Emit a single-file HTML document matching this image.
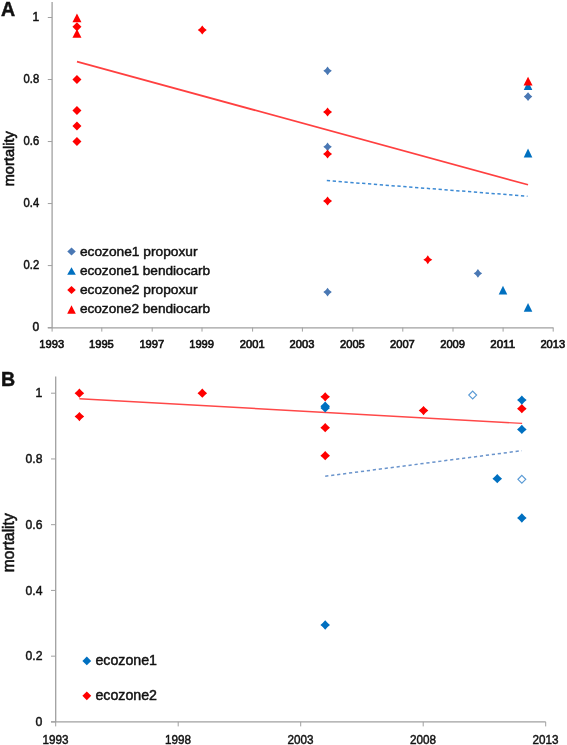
<!DOCTYPE html>
<html><head><meta charset="utf-8"><title>mortality</title>
<style>
html,body{margin:0;padding:0;background:#fff;}
body{width:567px;height:745px;overflow:hidden;}
svg{display:block;will-change:transform;}
text{font-family:"Liberation Sans",sans-serif;fill:#111111;stroke:#111111;stroke-width:0.45px;paint-order:stroke;}
</style></head>
<body>
<svg width="567" height="745" viewBox="0 0 567 745">
<rect x="0" y="0" width="567" height="745" fill="#fff"/>
<text x="1.00" y="15.90" font-size="19.6" text-anchor="start" font-weight="bold">A</text>
<line x1="52.1" y1="2" x2="52.1" y2="327.90000000000003" stroke="#A0A0A0" stroke-width="1.3"/>
<line x1="47.8" y1="327.90000000000003" x2="553.4" y2="327.90000000000003" stroke="#A0A0A0" stroke-width="1.3"/>
<line x1="47.8" y1="327.60" x2="52.1" y2="327.60" stroke="#A0A0A0" stroke-width="1"/>
<text x="39.20" y="331.35" font-size="12.0" text-anchor="end" font-weight="normal" style="stroke-width:0.5px">0</text>
<line x1="47.8" y1="265.58" x2="52.1" y2="265.58" stroke="#A0A0A0" stroke-width="1"/>
<text x="39.20" y="269.33" font-size="12.0" text-anchor="end" font-weight="normal" textLength="15.6" lengthAdjust="spacingAndGlyphs" style="stroke-width:0.5px">0.2</text>
<line x1="47.8" y1="203.56" x2="52.1" y2="203.56" stroke="#A0A0A0" stroke-width="1"/>
<text x="39.20" y="207.31" font-size="12.0" text-anchor="end" font-weight="normal" textLength="15.6" lengthAdjust="spacingAndGlyphs" style="stroke-width:0.5px">0.4</text>
<line x1="47.8" y1="141.54" x2="52.1" y2="141.54" stroke="#A0A0A0" stroke-width="1"/>
<text x="39.20" y="145.29" font-size="12.0" text-anchor="end" font-weight="normal" textLength="15.6" lengthAdjust="spacingAndGlyphs" style="stroke-width:0.5px">0.6</text>
<line x1="47.8" y1="79.52" x2="52.1" y2="79.52" stroke="#A0A0A0" stroke-width="1"/>
<text x="39.20" y="83.27" font-size="12.0" text-anchor="end" font-weight="normal" textLength="15.6" lengthAdjust="spacingAndGlyphs" style="stroke-width:0.5px">0.8</text>
<line x1="47.8" y1="17.50" x2="52.1" y2="17.50" stroke="#A0A0A0" stroke-width="1"/>
<text x="39.20" y="21.25" font-size="12.0" text-anchor="end" font-weight="normal" style="stroke-width:0.5px">1</text>
<line x1="52.10" y1="327.6" x2="52.10" y2="331.6" stroke="#A0A0A0" stroke-width="1"/>
<text x="51.70" y="347.90" font-size="11.6" text-anchor="middle" font-weight="normal" textLength="24.8" lengthAdjust="spacingAndGlyphs" style="stroke-width:0.65px">1993</text>
<line x1="101.80" y1="327.6" x2="101.80" y2="331.6" stroke="#A0A0A0" stroke-width="1"/>
<text x="101.40" y="347.90" font-size="11.6" text-anchor="middle" font-weight="normal" textLength="24.8" lengthAdjust="spacingAndGlyphs" style="stroke-width:0.65px">1995</text>
<line x1="152.20" y1="327.6" x2="152.20" y2="331.6" stroke="#A0A0A0" stroke-width="1"/>
<text x="151.80" y="347.90" font-size="11.6" text-anchor="middle" font-weight="normal" textLength="24.8" lengthAdjust="spacingAndGlyphs" style="stroke-width:0.65px">1997</text>
<line x1="202.00" y1="327.6" x2="202.00" y2="331.6" stroke="#A0A0A0" stroke-width="1"/>
<text x="201.60" y="347.90" font-size="11.6" text-anchor="middle" font-weight="normal" textLength="24.8" lengthAdjust="spacingAndGlyphs" style="stroke-width:0.65px">1999</text>
<line x1="252.60" y1="327.6" x2="252.60" y2="331.6" stroke="#A0A0A0" stroke-width="1"/>
<text x="252.20" y="347.90" font-size="11.6" text-anchor="middle" font-weight="normal" textLength="24.8" lengthAdjust="spacingAndGlyphs" style="stroke-width:0.65px">2001</text>
<line x1="302.40" y1="327.6" x2="302.40" y2="331.6" stroke="#A0A0A0" stroke-width="1"/>
<text x="302.00" y="347.90" font-size="11.6" text-anchor="middle" font-weight="normal" textLength="24.8" lengthAdjust="spacingAndGlyphs" style="stroke-width:0.65px">2003</text>
<line x1="352.80" y1="327.6" x2="352.80" y2="331.6" stroke="#A0A0A0" stroke-width="1"/>
<text x="352.40" y="347.90" font-size="11.6" text-anchor="middle" font-weight="normal" textLength="24.8" lengthAdjust="spacingAndGlyphs" style="stroke-width:0.65px">2005</text>
<line x1="402.80" y1="327.6" x2="402.80" y2="331.6" stroke="#A0A0A0" stroke-width="1"/>
<text x="402.40" y="347.90" font-size="11.6" text-anchor="middle" font-weight="normal" textLength="24.8" lengthAdjust="spacingAndGlyphs" style="stroke-width:0.65px">2007</text>
<line x1="453.00" y1="327.6" x2="453.00" y2="331.6" stroke="#A0A0A0" stroke-width="1"/>
<text x="452.60" y="347.90" font-size="11.6" text-anchor="middle" font-weight="normal" textLength="24.8" lengthAdjust="spacingAndGlyphs" style="stroke-width:0.65px">2009</text>
<line x1="503.10" y1="327.6" x2="503.10" y2="331.6" stroke="#A0A0A0" stroke-width="1"/>
<text x="502.70" y="347.90" font-size="11.6" text-anchor="middle" font-weight="normal" textLength="24.8" lengthAdjust="spacingAndGlyphs" style="stroke-width:0.65px">2011</text>
<line x1="553.20" y1="327.6" x2="553.20" y2="331.6" stroke="#A0A0A0" stroke-width="1"/>
<text x="552.80" y="347.90" font-size="11.6" text-anchor="middle" font-weight="normal" textLength="24.8" lengthAdjust="spacingAndGlyphs" style="stroke-width:0.65px">2013</text>
<text x="0" y="0" font-size="14.6" style="stroke-width:0.6px" transform="translate(13.9,186.3) rotate(-90)">mortality</text>
<line x1="76.96" y1="61.6" x2="528.04" y2="184.8" stroke="#FF4040" stroke-width="1.7"/>
<line x1="326.8" y1="180.6" x2="527.5" y2="196.2" stroke="#3C8AD4" stroke-width="1.5" stroke-dasharray="3.3 2.6"/>
<path d="M327.56,66.44 Q329.09,69.25 331.81,70.84 Q329.09,72.42 327.56,75.24 Q326.03,72.42 323.31,70.84 Q326.03,69.25 327.56,66.44Z" fill="#4A78B4"/>
<path d="M327.56,142.41 Q329.09,145.23 331.81,146.81 Q329.09,148.40 327.56,151.21 Q326.03,148.40 323.31,146.81 Q326.03,145.23 327.56,142.41Z" fill="#4A78B4"/>
<path d="M327.56,287.69 Q329.09,290.51 331.81,292.09 Q329.09,293.68 327.56,296.49 Q326.03,293.68 323.31,292.09 Q326.03,290.51 327.56,287.69Z" fill="#4A78B4"/>
<path d="M477.92,268.93 Q479.45,271.75 482.17,273.33 Q479.45,274.92 477.92,277.73 Q476.39,274.92 473.67,273.33 Q476.39,271.75 477.92,268.93Z" fill="#4A78B4"/>
<path d="M528.04,92.18 Q529.95,94.60 532.29,96.58 Q529.95,98.56 528.04,100.98 Q526.13,98.56 523.79,96.58 Q526.13,94.60 528.04,92.18Z" fill="#4A78B4"/>
<polygon points="502.98,285.68 507.28,294.48 498.68,294.48" fill="#0070C0"/>
<polygon points="528.04,81.32 532.34,90.12 523.74,90.12" fill="#0070C0"/>
<polygon points="528.04,148.61 532.34,157.41 523.74,157.41" fill="#0070C0"/>
<polygon points="528.04,303.04 532.34,311.84 523.74,311.84" fill="#0070C0"/>
<polygon points="76.96,22.30 81.46,26.80 76.96,31.30 72.46,26.80" fill="#FF0000"/>
<polygon points="76.96,75.02 81.46,79.52 76.96,84.02 72.46,79.52" fill="#FF0000"/>
<polygon points="76.96,106.03 81.46,110.53 76.96,115.03 72.46,110.53" fill="#FF0000"/>
<polygon points="76.96,121.53 81.46,126.03 76.96,130.53 72.46,126.03" fill="#FF0000"/>
<polygon points="76.96,137.04 81.46,141.54 76.96,146.04 72.46,141.54" fill="#FF0000"/>
<path d="M202.26,25.40 Q203.97,28.19 206.76,29.90 Q203.97,31.61 202.26,34.40 Q200.55,31.61 197.76,29.90 Q200.55,28.19 202.26,25.40Z" fill="#FF0000"/>
<path d="M327.56,107.58 Q329.27,110.37 332.06,112.08 Q329.27,113.79 327.56,116.58 Q325.85,113.79 323.06,112.08 Q325.85,110.37 327.56,107.58Z" fill="#FF0000"/>
<path d="M327.56,149.44 Q329.27,152.23 332.06,153.94 Q329.27,155.65 327.56,158.44 Q325.85,155.65 323.06,153.94 Q325.85,152.23 327.56,149.44Z" fill="#FF0000"/>
<path d="M327.56,196.58 Q329.27,199.37 332.06,201.08 Q329.27,202.79 327.56,205.58 Q325.85,202.79 323.06,201.08 Q325.85,199.37 327.56,196.58Z" fill="#FF0000"/>
<path d="M427.80,255.19 Q429.15,258.34 432.30,259.69 Q429.15,261.04 427.80,264.19 Q426.45,261.04 423.30,259.69 Q426.45,258.34 427.80,255.19Z" fill="#FF0000"/>
<polygon points="76.96,13.41 81.46,22.21 72.46,22.21" fill="#FF0000"/>
<polygon points="76.96,28.92 81.46,37.72 72.46,37.72" fill="#FF0000"/>
<polygon points="528.04,76.67 532.54,85.47 523.54,85.47" fill="#FF0000"/>
<polygon points="71.50,247.60 75.75,251.50 71.50,255.40 67.25,251.50" fill="#4A78B4"/>
<text x="79.90" y="255.50" font-size="13.1" text-anchor="start" font-weight="normal" textLength="117.6" lengthAdjust="spacingAndGlyphs">ecozone1 propoxur</text>
<polygon points="71.50,267.30 75.80,274.70 67.20,274.70" fill="#0070C0"/>
<text x="79.90" y="274.90" font-size="13.1" text-anchor="start" font-weight="normal" textLength="130.29999999999998" lengthAdjust="spacingAndGlyphs">ecozone1 bendiocarb</text>
<polygon points="71.50,286.10 75.75,290.00 71.50,293.90 67.25,290.00" fill="#FF0000"/>
<text x="79.90" y="294.00" font-size="13.1" text-anchor="start" font-weight="normal" textLength="117.6" lengthAdjust="spacingAndGlyphs">ecozone2 propoxur</text>
<polygon points="71.50,305.20 75.80,313.80 67.20,313.80" fill="#FF0000"/>
<text x="79.90" y="313.40" font-size="13.1" text-anchor="start" font-weight="normal" textLength="130.29999999999998" lengthAdjust="spacingAndGlyphs">ecozone2 bendiocarb</text>
<text x="1.00" y="386.10" font-size="19.6" text-anchor="start" font-weight="bold">B</text>
<line x1="55.7" y1="376.5" x2="55.7" y2="721.9" stroke="#A0A0A0" stroke-width="1.3"/>
<line x1="51" y1="721.9" x2="545.7" y2="721.9" stroke="#A0A0A0" stroke-width="1.3"/>
<line x1="51" y1="721.90" x2="55.7" y2="721.90" stroke="#A0A0A0" stroke-width="1"/>
<text x="42.40" y="726.00" font-size="12.3" text-anchor="end" font-weight="normal" style="stroke-width:0.45px">0</text>
<line x1="51" y1="656.16" x2="55.7" y2="656.16" stroke="#A0A0A0" stroke-width="1"/>
<text x="42.40" y="660.26" font-size="12.3" text-anchor="end" font-weight="normal" textLength="16.9" lengthAdjust="spacingAndGlyphs" style="stroke-width:0.45px">0.2</text>
<line x1="51" y1="590.42" x2="55.7" y2="590.42" stroke="#A0A0A0" stroke-width="1"/>
<text x="42.40" y="594.52" font-size="12.3" text-anchor="end" font-weight="normal" textLength="16.9" lengthAdjust="spacingAndGlyphs" style="stroke-width:0.45px">0.4</text>
<line x1="51" y1="524.68" x2="55.7" y2="524.68" stroke="#A0A0A0" stroke-width="1"/>
<text x="42.40" y="528.78" font-size="12.3" text-anchor="end" font-weight="normal" textLength="16.9" lengthAdjust="spacingAndGlyphs" style="stroke-width:0.45px">0.6</text>
<line x1="51" y1="458.94" x2="55.7" y2="458.94" stroke="#A0A0A0" stroke-width="1"/>
<text x="42.40" y="463.04" font-size="12.3" text-anchor="end" font-weight="normal" textLength="16.9" lengthAdjust="spacingAndGlyphs" style="stroke-width:0.45px">0.8</text>
<line x1="51" y1="393.20" x2="55.7" y2="393.20" stroke="#A0A0A0" stroke-width="1"/>
<text x="42.40" y="397.30" font-size="12.3" text-anchor="end" font-weight="normal" style="stroke-width:0.45px">1</text>
<line x1="55.70" y1="721.9" x2="55.70" y2="726.4" stroke="#A0A0A0" stroke-width="1"/>
<text x="55.40" y="743.60" font-size="12.1" text-anchor="middle" font-weight="normal" textLength="26.0" lengthAdjust="spacingAndGlyphs" style="stroke-width:0.45px">1993</text>
<line x1="178.20" y1="721.9" x2="178.20" y2="726.4" stroke="#A0A0A0" stroke-width="1"/>
<text x="177.90" y="743.60" font-size="12.1" text-anchor="middle" font-weight="normal" textLength="26.0" lengthAdjust="spacingAndGlyphs" style="stroke-width:0.45px">1998</text>
<line x1="300.70" y1="721.9" x2="300.70" y2="726.4" stroke="#A0A0A0" stroke-width="1"/>
<text x="300.40" y="743.60" font-size="12.1" text-anchor="middle" font-weight="normal" textLength="26.0" lengthAdjust="spacingAndGlyphs" style="stroke-width:0.45px">2003</text>
<line x1="423.20" y1="721.9" x2="423.20" y2="726.4" stroke="#A0A0A0" stroke-width="1"/>
<text x="422.90" y="743.60" font-size="12.1" text-anchor="middle" font-weight="normal" textLength="26.0" lengthAdjust="spacingAndGlyphs" style="stroke-width:0.45px">2008</text>
<line x1="545.70" y1="721.9" x2="545.70" y2="726.4" stroke="#A0A0A0" stroke-width="1"/>
<text x="545.40" y="743.60" font-size="12.1" text-anchor="middle" font-weight="normal" textLength="26.0" lengthAdjust="spacingAndGlyphs" style="stroke-width:0.45px">2013</text>
<text x="0" y="0" font-size="15.6" style="stroke-width:0.55px" transform="translate(14.1,572.2) rotate(-90)">mortality</text>
<line x1="79.40" y1="398.7" x2="522.14" y2="423.4" stroke="#FF4848" stroke-width="1.45"/>
<line x1="325.20" y1="476.2" x2="521.84" y2="450.7" stroke="#6A94CC" stroke-width="1.5" stroke-dasharray="3.2 2.8"/>
<path d="M79.40,388.55 Q81.51,391.15 84.20,393.20 Q81.51,395.25 79.40,397.85 Q77.29,395.25 74.60,393.20 Q77.29,391.15 79.40,388.55Z" fill="#FF0000"/>
<path d="M79.40,411.89 Q81.51,414.49 84.20,416.54 Q81.51,418.58 79.40,421.19 Q77.29,418.58 74.60,416.54 Q77.29,414.49 79.40,411.89Z" fill="#FF0000"/>
<path d="M202.30,388.55 Q204.41,391.15 207.10,393.20 Q204.41,395.25 202.30,397.85 Q200.19,395.25 197.50,393.20 Q200.19,391.15 202.30,388.55Z" fill="#FF0000"/>
<path d="M325.20,392.17 Q327.31,394.77 330.00,396.82 Q327.31,398.86 325.20,401.47 Q323.09,398.86 320.40,396.82 Q323.09,394.77 325.20,392.17Z" fill="#FF0000"/>
<path d="M325.20,423.06 Q327.31,425.67 330.00,427.71 Q327.31,429.76 325.20,432.36 Q323.09,429.76 320.40,427.71 Q323.09,425.67 325.20,423.06Z" fill="#FF0000"/>
<path d="M325.20,451.00 Q327.31,453.61 330.00,455.65 Q327.31,457.70 325.20,460.30 Q323.09,457.70 320.40,455.65 Q323.09,453.61 325.20,451.00Z" fill="#FF0000"/>
<path d="M423.52,405.97 Q425.63,408.58 428.32,410.62 Q425.63,412.67 423.52,415.27 Q421.41,412.67 418.72,410.62 Q421.41,408.58 423.52,405.97Z" fill="#FF0000"/>
<path d="M521.84,404.00 Q523.95,406.60 526.64,408.65 Q523.95,410.69 521.84,413.30 Q519.73,410.69 517.04,408.65 Q519.73,406.60 521.84,404.00Z" fill="#FF0000"/>
<path d="M325.20,401.55 Q327.31,404.15 330.00,406.20 Q327.31,408.25 325.20,410.85 Q323.09,408.25 320.40,406.20 Q323.09,404.15 325.20,401.55Z" fill="#0070C0"/>
<path d="M325.20,403.25 Q327.31,405.85 330.00,407.90 Q327.31,409.95 325.20,412.55 Q323.09,409.95 320.40,407.90 Q323.09,405.85 325.20,403.25Z" fill="#0070C0"/>
<path d="M325.20,620.35 Q327.31,622.95 330.00,625.00 Q327.31,627.05 325.20,629.65 Q323.09,627.05 320.40,625.00 Q323.09,622.95 325.20,620.35Z" fill="#0070C0"/>
<path d="M497.26,474.05 Q499.37,476.65 502.06,478.70 Q499.37,480.75 497.26,483.35 Q495.15,480.75 492.46,478.70 Q495.15,476.65 497.26,474.05Z" fill="#0070C0"/>
<path d="M521.84,395.45 Q523.95,398.05 526.64,400.10 Q523.95,402.15 521.84,404.75 Q519.73,402.15 517.04,400.10 Q519.73,398.05 521.84,395.45Z" fill="#0070C0"/>
<path d="M521.84,424.75 Q523.95,427.35 526.64,429.40 Q523.95,431.45 521.84,434.05 Q519.73,431.45 517.04,429.40 Q519.73,427.35 521.84,424.75Z" fill="#0070C0"/>
<path d="M521.84,513.35 Q523.95,515.95 526.64,518.00 Q523.95,520.05 521.84,522.65 Q519.73,520.05 517.04,518.00 Q519.73,515.95 521.84,513.35Z" fill="#0070C0"/>
<polygon points="472.68,391.20 476.58,395.10 472.68,399.00 468.78,395.10" fill="#fff" stroke="#5B9BD5" stroke-width="1.2"/>
<polygon points="521.84,475.40 525.74,479.30 521.84,483.20 517.94,479.30" fill="#fff" stroke="#5B9BD5" stroke-width="1.2"/>
<polygon points="86.80,656.50 91.20,660.90 86.80,665.30 82.40,660.90" fill="#0070C0"/>
<text x="95.40" y="665.40" font-size="13.8" text-anchor="start" font-weight="normal" textLength="61.6" lengthAdjust="spacingAndGlyphs">ecozone1</text>
<polygon points="86.80,691.40 91.20,695.80 86.80,700.20 82.40,695.80" fill="#FF0000"/>
<text x="95.40" y="700.30" font-size="13.8" text-anchor="start" font-weight="normal" textLength="61.6" lengthAdjust="spacingAndGlyphs">ecozone2</text>
</svg>
</body></html>
